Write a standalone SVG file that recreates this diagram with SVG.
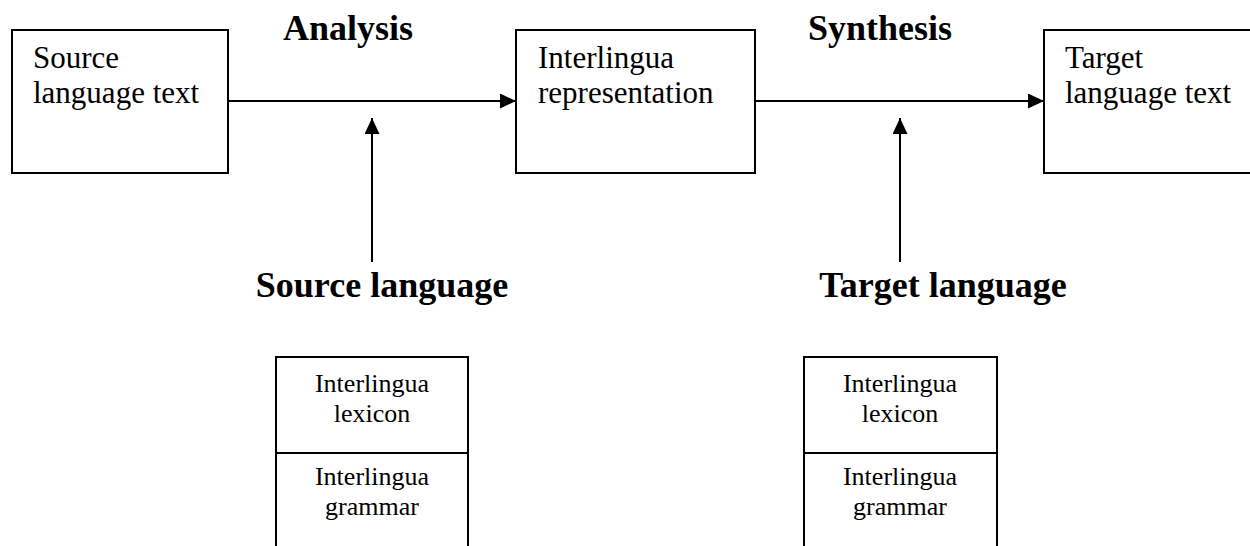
<svg xmlns="http://www.w3.org/2000/svg" width="1250" height="546" viewBox="0 0 1250 546">
  <style>
    .box { fill: #fff; stroke: #000; stroke-width: 2; }
    .txt { font-family: "Liberation Serif", "Times New Roman", serif; font-size: 31px; fill: #000; }
    .small { font-family: "Liberation Serif", "Times New Roman", serif; font-size: 26px; fill: #000; text-anchor: middle; }
    .head { font-family: "Liberation Serif", "Times New Roman", serif; font-size: 36px; font-weight: bold; fill: #000; text-anchor: middle; }
    .conn { stroke: #000; stroke-width: 2; fill: none; }
  </style>
  <defs>
    <marker id="arrow" viewBox="0 0 16 15" refX="16" refY="7.5" markerWidth="16" markerHeight="15" markerUnits="userSpaceOnUse" orient="auto">
      <path d="M0,0 L16,7.5 L0,15 Z" fill="#000"/>
    </marker>
  </defs>
  <rect width="1250" height="546" fill="#fff"/>

  <g id="source-text">
    <rect class="box" x="12" y="30" width="216" height="143"/>
    <text class="txt" x="33" y="68">Source</text>
    <text class="txt" x="33" y="103">language text</text>
  </g>

  <g id="interlingua-representation">
    <rect class="box" x="516" y="30" width="239" height="143"/>
    <text class="txt" x="538" y="68">Interlingua</text>
    <text class="txt" x="538" y="103">representation</text>
  </g>

  <g id="target-text">
    <rect class="box" x="1044" y="30" width="220" height="143"/>
    <text class="txt" x="1065" y="68">Target</text>
    <text class="txt" x="1065" y="103">language text</text>
  </g>

  <g id="analysis-label">
    <text class="head" x="348" y="40">Analysis</text>
  </g>
  <g id="synthesis-label">
    <text class="head" x="880" y="40">Synthesis</text>
  </g>

  <g id="source-language">
    <text class="head" x="382" y="297">Source language</text>
    <rect class="box" x="276" y="357" width="192" height="200"/>
    <line class="conn" x1="276" y1="453" x2="468" y2="453"/>
    <text class="small" x="372" y="392">Interlingua</text>
    <text class="small" x="372" y="422">lexicon</text>
    <text class="small" x="372" y="485">Interlingua</text>
    <text class="small" x="372" y="515">grammar</text>
  </g>

  <g id="target-language">
    <text class="head" x="943" y="297">Target language</text>
    <rect class="box" x="804" y="357" width="193" height="200"/>
    <line class="conn" x1="804" y1="453" x2="997" y2="453"/>
    <text class="small" x="900" y="392">Interlingua</text>
    <text class="small" x="900" y="422">lexicon</text>
    <text class="small" x="900" y="485">Interlingua</text>
    <text class="small" x="900" y="515">grammar</text>
  </g>

  <g id="connectors">
    <line class="conn" x1="228" y1="101" x2="516" y2="101" marker-end="url(#arrow)"/>
    <line class="conn" x1="755" y1="101" x2="1044" y2="101" marker-end="url(#arrow)"/>
    <line class="conn" x1="372" y1="262" x2="372" y2="118" marker-end="url(#arrow)"/>
    <line class="conn" x1="900" y1="262" x2="900" y2="118" marker-end="url(#arrow)"/>
  </g>
</svg>
